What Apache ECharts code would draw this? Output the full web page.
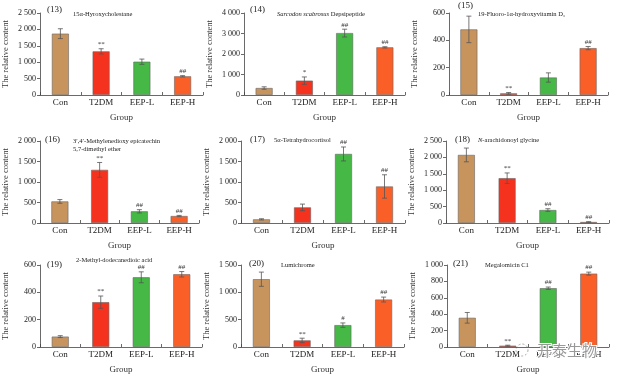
<!DOCTYPE html>
<html style="height: 100%">
<head>
<meta charset="utf-8">
<script src="https://cdn.jsdelivr.net/npm/echarts@6/dist/echarts.min.js"></script>
</head>
<body style="height: 100%; margin: 0; background: #fff">
<div id="container" style="width: 617px; height: 375px"></div>
<script type="text/javascript">
var groups = ['Con', 'T2DM', 'EEP-L', 'EEP-H'];
var barColors = ['#c8945e', '#f5321e', '#45b845', '#fb5f28'];

// means, error half-widths and significance marks per panel
var mean13 = [1870, 1330, 1015, 570], err13 = [150, 80, 80, 20], sig13 = ['', '**', '', '##'];
var mean14 = [340, 700, 3020, 2325], err14 = [60, 180, 190, 30], sig14 = ['', '*', '##', '##'];
var mean15 = [480, 12, 128, 343], err15 = [97, 6, 34, 12], sig15 = ['', '**', '', '##'];
var mean16 = [526, 1296, 285, 170], err16 = [45, 180, 40, 15], sig16 = ['', '**', '##', '##'];
var mean17 = [89, 381, 1684, 891], err17 = [15, 80, 170, 285], sig17 = ['', '', '##', '##'];
var mean18 = [2075, 1366, 395, 30], err18 = [210, 160, 40, 10], sig18 = ['', '**', '##', '##'];
var mean19 = [76, 328, 510, 532], err19 = [7, 45, 40, 20], sig19 = ['', '**', '##', '##'];
var mean20 = [1240, 121, 400, 868], err20 = [130, 40, 40, 45], sig20 = ['', '**', '#', '##'];
var mean21 = [356, 16, 717, 895], err21 = [65, 6, 14, 18], sig21 = ['', '**', '##', '##'];

var panelNums = ['(13)', '(14)', '(15)', '(16)', '(17)', '(18)', '(19)', '(20)', '(21)'];
var compoundNames = [
    '15α-Hyroxycholestane',
    '{i|Sarcodon scabrosus} Depsipeptide',
    '19-Fluoro-1α-hydroxyvitamin D₃',
    '3′,4′-Methylenedioxy epicatechin\n5,7-dimethyl ether',
    '5α-Tetrahydrocortisol',
    '{i|N}-arachidonoyl glycine',
    '2-Methyl-dodecanedioic acid',
    'Lumichrome',
    'Megalomicin C1'
];
var yMax = [2500, 4000, 600, 2000, 2000, 2500, 600, 1500, 1000];
var yStep = [500, 1000, 200, 500, 500, 500, 200, 500, 200];

var means = [mean13, mean14, mean15, mean16, mean17, mean18, mean19, mean20, mean21];
var errs = [err13, err14, err15, err16, err17, err18, err19, err20, err21];
var sigs = [sig13, sig14, sig15, sig16, sig17, sig18, sig19, sig20, sig21];

// plot boxes: [left, right, top, bottom] in pixels
var boxes = [
    [39, 203, 13, 95], [244, 405, 13, 95], [449, 608, 13, 95],
    [36, 199, 141, 223], [241, 405, 141, 223], [446, 609, 141, 223],
    [39, 202, 265, 348], [241, 404, 265, 348], [447, 609, 265, 348]
];
// label positions: number [x,y], name [x,y]
var numPos = [[47, 10], [250, 10], [458, 6], [45, 140], [250, 140], [455, 140], [47, 265], [249, 264], [453, 264]];
var namePos = [[73, 14], [277, 14], [478, 14], [73, 141], [274, 140], [478, 140], [76, 260], [281, 265], [485, 265]];

var font = 'Liberation Serif';
var grids = [], xAxes = [], yAxes = [], series = [], graphics = [];

function fmt(v) {
    return String(v).replace(/\B(?=(\d{3})+(?!\d))/g, ' ');
}

for (var p = 0; p < 9; p++) {
    var b = boxes[p];
    grids.push({ left: b[0], top: b[2], width: b[1] - b[0], height: b[3] - b[2] });
    xAxes.push({
        type: 'category', gridIndex: p, data: groups,
        name: 'Group', nameLocation: 'middle', nameGap: 18,
        nameTextStyle: { fontFamily: font, fontSize: 9, color: '#333' },
        axisLine: { lineStyle: { color: '#444', width: 0.8 } },
        axisTick: { show: true, inside: true, length: 3, lineStyle: { color: '#444', width: 0.8 } },
        axisLabel: { fontFamily: font, fontSize: 9, color: '#222', margin: 3, interval: 0 },
        splitLine: { show: false }
    });
    yAxes.push({
        type: 'value', gridIndex: p, min: 0, max: yMax[p], interval: yStep[p],
        name: 'The relative content', nameLocation: 'middle', nameGap: 30,
        nameTextStyle: { fontFamily: font, fontSize: 8.5, color: '#333' },
        axisLine: { show: true, lineStyle: { color: '#444', width: 0.8 } },
        axisTick: { show: true, length: 3, lineStyle: { color: '#444', width: 0.8 } },
        axisLabel: { fontFamily: font, fontSize: 8, color: '#222', margin: 4, formatter: fmt },
        splitLine: { show: false }
    });
    var barData = means[p].map(function (v, i) {
        return { value: v, itemStyle: { color: barColors[i] } };
    });
    series.push({
        type: 'bar', xAxisIndex: p, yAxisIndex: p, data: barData, barWidth: 17,
        itemStyle: { borderColor: '#666', borderWidth: 0.6 }, silent: true
    });
    var errData = means[p].map(function (v, i) {
        return [i, v - errs[p][i], v + errs[p][i]];
    });
    (function (sig) {
        series.push({
            type: 'custom', xAxisIndex: p, yAxisIndex: p, data: errData, silent: true, z: 5,
            renderItem: function (params, api) {
                var hiP = api.coord([api.value(0), api.value(2)]);
                var loP = api.coord([api.value(0), api.value(1)]);
                var x = hiP[0], hw = 2.5;
                var st = { stroke: '#555', lineWidth: 0.8 };
                return {
                    type: 'group',
                    children: [
                        { type: 'line', shape: { x1: x, y1: hiP[1], x2: x, y2: loP[1] }, style: st },
                        { type: 'line', shape: { x1: x - hw, y1: hiP[1], x2: x + hw, y2: hiP[1] }, style: st },
                        { type: 'line', shape: { x1: x - hw, y1: loP[1], x2: x + hw, y2: loP[1] }, style: st },
                        {
                            type: 'text',
                            style: {
                                text: sig[params.dataIndex], x: x, y: hiP[1] - 1,
                                align: 'center', verticalAlign: 'bottom',
                                font: '7px "Liberation Serif"', fill: '#333'
                            }
                        }
                    ]
                };
            }
        });
    })(sigs[p]);

    graphics.push({
        type: 'text', left: numPos[p][0], top: numPos[p][1] - 5,
        style: { text: panelNums[p], font: '9px "Liberation Serif"', fill: '#222' }
    });
    graphics.push({
        type: 'text', left: namePos[p][0], top: namePos[p][1] - 4,
        style: {
            text: compoundNames[p], font: '6.5px "Liberation Serif"', fill: '#222', lineHeight: 8,
            rich: { i: { fontStyle: 'italic', fontFamily: font, fontSize: 6.5 } }
        }
    });
}

// watermark
graphics.push({
    type: 'circle', shape: { cx: 522, cy: 350, r: 6 },
    style: { fill: 'none', stroke: '#aaa', lineWidth: 1, lineDash: [2, 2] }
});
graphics.push({
    type: 'text', left: 536, top: 342,
    style: { text: '开泰生物', font: '15px "Noto Sans CJK SC"', fill: '#999', stroke: '#fff', lineWidth: 2 }, z: 100
});

var myChart = echarts.init(document.getElementById('container'));
myChart.setOption({
    backgroundColor: '#fff',
    animation: false,
    grid: grids,
    xAxis: xAxes,
    yAxis: yAxes,
    series: series,
    graphic: graphics
});
</script>
</body>
</html>
